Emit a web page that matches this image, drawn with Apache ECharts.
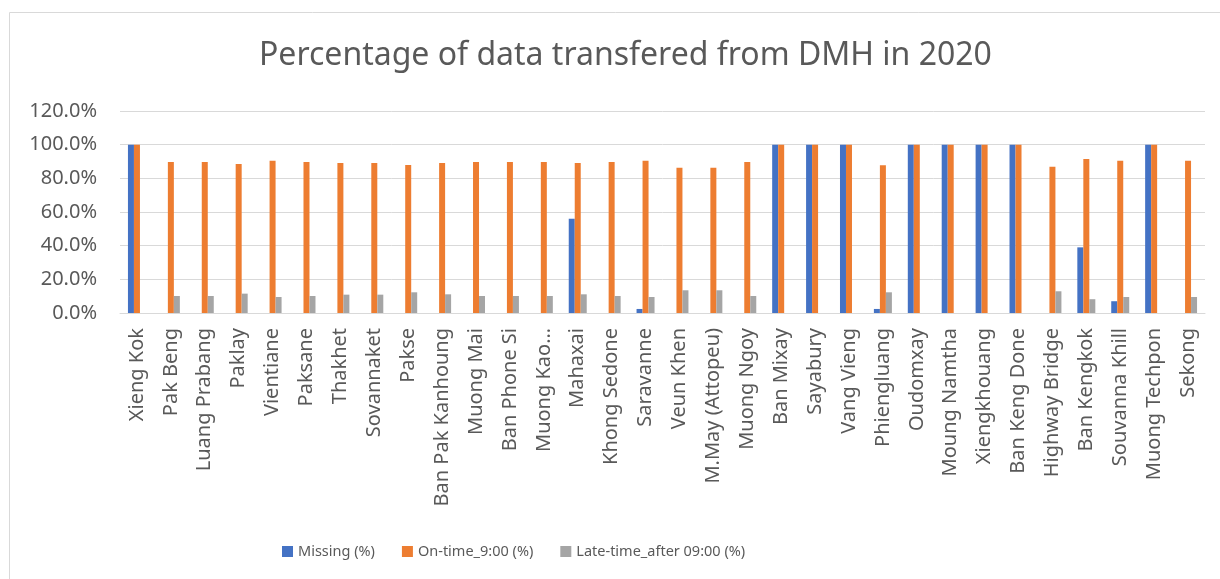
<!DOCTYPE html>
<html>
<head>
<meta charset="utf-8">
<script src="https://cdn.jsdelivr.net/npm/echarts@6/dist/echarts.min.js"></script>
<style>
html,body{margin:0;padding:0;background:#fff;}
#chart{width:1220px;height:579px;}
</style>
</head>
<body>
<div id="chart"></div>
<script>
const categories = ["Xieng Kok","Pak Beng","Luang Prabang","Paklay","Vientiane","Paksane","Thakhet","Sovannaket","Pakse","Ban Pak Kanhoung","Muong Mai","Ban Phone Si","Muong Kao…","Mahaxai","Khong Sedone","Saravanne","Veun Khen","M.May (Attopeu)","Muong Ngoy","Ban Mixay","Sayabury","Vang Vieng","Phiengluang","Oudomxay","Moung Namtha","Xiengkhouang","Ban Keng Done","Highway Bridge","Ban Kengkok","Souvanna Khill","Muong Techpon","Sekong"];
const missing = [100,0,0,0,0,0,0,0,0,0,0,0,0,56,0,2.4,0,0,0,100,100,100,2.4,100,100,100,100,0,39,7,100,0];
const onTime = [100,89.7,89.7,88.5,90.5,89.7,89.1,89.1,87.9,89.1,89.7,89.7,89.7,89.1,89.7,90.5,86.3,86.3,89.7,100,100,100,87.7,100,100,100,100,86.9,91.5,90.5,100,90.5];
const late = [0,10.1,10.1,11.5,9.5,10.1,10.9,10.9,12.3,11.1,10.1,10.1,10.1,11.1,10.1,9.5,13.5,13.5,10.1,0,0,0,12.3,0,0,0,0,12.9,8.2,9.5,0,9.5];
const seriesNames = ["Missing (%)","On-time_9:00 (%)","Late-time_after 09:00 (%)"];
const colors = ["#4472C4","#ED7D31","#A5A5A5"];
const titleText = "Percentage of data transfered from DMH in 2020";

const font = "Noto Sans";
const chart = echarts.init(document.getElementById('chart'));
const mk = (name, data, color) => ({
  name, type: 'bar', data, barWidth: 6, barGap: '0%',
  itemStyle: {color}, animation: false
});
chart.setOption({
  animation: false,
  textStyle: {fontFamily: font},
  graphic: [{
    type: 'rect', shape: {x: 9.5, y: 12.5, width: 1300, height: 700},
    style: {fill: 'none', stroke: '#D9D9D9', lineWidth: 1}, silent: true, z: -1
  }],
  title: {
    text: titleText, left: 254, top: 35,
    textStyle: {fontFamily: font, fontSize: 32, fontWeight: 'normal', color: '#595959'}
  },
  legend: {
    left: 277, top: 539, itemWidth: 11, itemHeight: 11, itemGap: 27, icon: 'rect',
    textStyle: {fontFamily: font, fontSize: 14.5, color: '#595959'},
    data: seriesNames
  },
  grid: {left: 120, right: 15, top: 111, bottom: 266, containLabel: false},
  xAxis: {
    type: 'category', data: categories,
    axisLine: {lineStyle: {color: '#D9D9D9', width: 1}},
    axisTick: {show: false},
    axisLabel: {rotate: 90, interval: 0, margin: 15, fontFamily: font, fontSize: 20, color: '#595959'}
  },
  yAxis: {
    type: 'value', min: 0, max: 120, interval: 20,
    axisLine: {show: false}, axisTick: {show: false},
    splitLine: {lineStyle: {color: '#D9D9D9', width: 1}},
    axisLabel: {formatter: v => v.toFixed(1) + '%', margin: 23, fontFamily: font, fontSize: 20, color: '#595959'}
  },
  series: [mk(seriesNames[0], missing, colors[0]), mk(seriesNames[1], onTime, colors[1]), mk(seriesNames[2], late, colors[2])]
});
</script>
</body>
</html>
